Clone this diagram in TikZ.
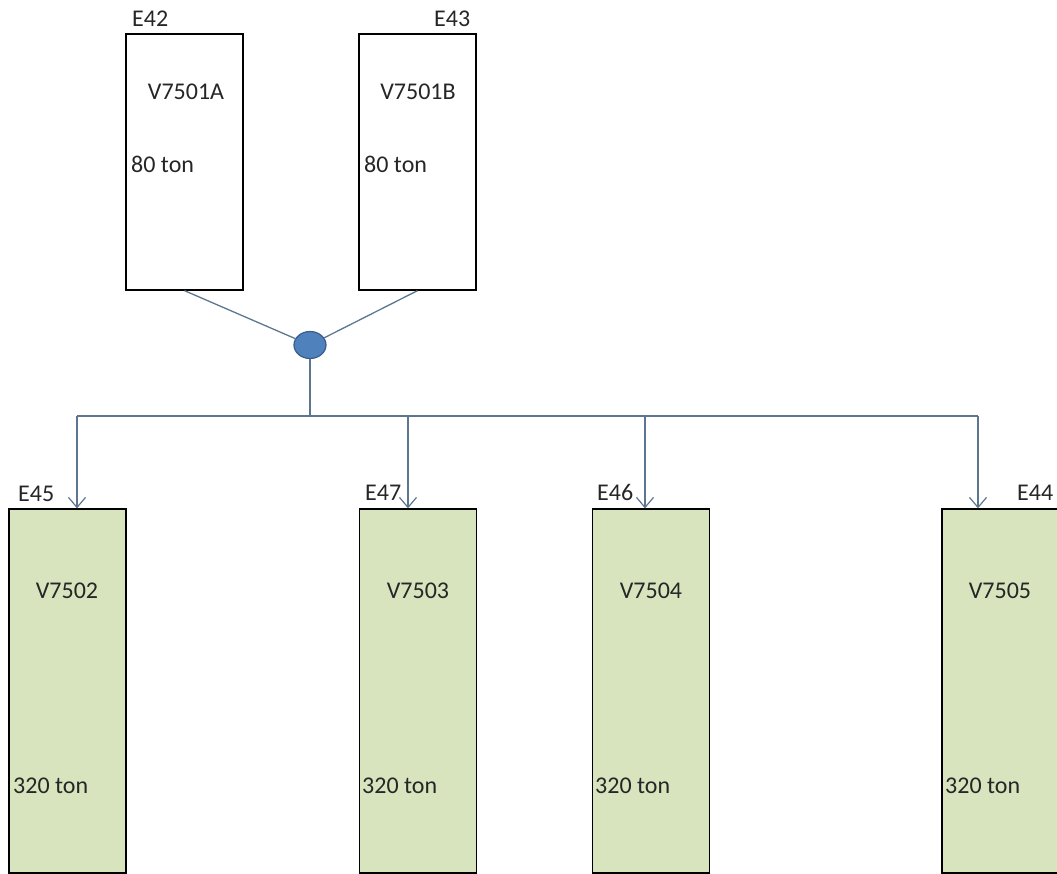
\documentclass[tikz,border=0pt]{standalone}
\usepackage{fontspec}
\setmainfont{Carlito}
\usetikzlibrary{arrows.meta,shapes.geometric}
\definecolor{boxgreen}{HTML}{D7E4BD}
\definecolor{linec}{HTML}{5C7690}
\definecolor{jfill}{HTML}{4F81BD}
\definecolor{jdraw}{HTML}{385D8A}
\begin{document}
\begin{tikzpicture}[x=1pt,y=-1pt,
  vessel/.style={draw=black,line width=1.3pt,inner sep=0pt,minimum width=117pt},
  smallvessel/.style={vessel,minimum height=256pt,fill=white},
  bigvessel/.style={vessel,minimum height=364pt,fill=boxgreen},
  lbltext/.style={inner sep=0pt,anchor=base west,text=black!85,font=\fontsize{24}{27}\selectfont},
  vnametext/.style={inner sep=0pt,anchor=base,text=black!85,font=\fontsize{24}{27}\selectfont},
  pipe/.style={draw=linec,line width=1.3pt},
  feed/.style={pipe,-{Straight Barb[length=10pt,width=17pt,line width=1.2pt]}}]
\useasboundingbox (0,0) rectangle (1057,874);
\clip (0,0) rectangle (1057,874);
% top vessels
\node[smallvessel] (A) at (184.5,162) {};
\node[smallvessel] (B) at (417.5,162) {};
\node[lbltext] (tA) at (132,27) {E42};
\node[lbltext] (tB) at (434,27) {E43};
\node[vnametext] (nA) at (186,100) {V7501A};
\node[vnametext] (nB) at (418,100) {V7501B};
\node[lbltext] (wA) at (131,173) {80 ton};
\node[lbltext] (wB) at (364,173) {80 ton};
% junction
\node[ellipse,fill=jfill,draw=jdraw,line width=1.2pt,minimum width=32pt,minimum height=27pt,inner sep=0pt] (j) at (310,345) {};
\draw[pipe] (A.south) -- (j);
\draw[pipe] (B.south) -- (j);
% bus
\coordinate (b1) at (77,416);
\coordinate (b2) at (408,416);
\coordinate (b3) at (645,416);
\coordinate (b4) at (978,416);
\draw[pipe] (j.south) -- (j.south |- b1);
\draw[pipe] (b1) -- (b4);
% bottom vessels
\node[bigvessel] (V1) at (67.5,691) {};
\node[bigvessel] (V2) at (418,691) {};
\node[bigvessel] (V3) at (651,691) {};
\node[bigvessel] (V4) at (1000.5,691) {};
\draw[feed] (b1) -- (b1 |- V1.north);
\draw[feed] (b2) -- (b2 |- V2.north);
\draw[feed] (b3) -- (b3 |- V3.north);
\draw[feed] (b4) -- (b4 |- V4.north);
\node[lbltext] (e1) at (18,501) {E45};
\node[lbltext] (e2) at (365,500) {E47};
\node[lbltext] (e3) at (597,500) {E46};
\node[lbltext] (e4) at (1017,500) {E44};
\node[vnametext] (n1) at (67,598) {V7502};
\node[vnametext] (n2) at (418,598) {V7503};
\node[vnametext] (n3) at (651,598) {V7504};
\node[vnametext] (n4) at (1000,598) {V7505};
\node[lbltext] (w1) at (13,793) {320 ton};
\node[lbltext] (w2) at (362,793) {320 ton};
\node[lbltext] (w3) at (595,793) {320 ton};
\node[lbltext] (w4) at (945,793) {320 ton};
\end{tikzpicture}
\end{document}
